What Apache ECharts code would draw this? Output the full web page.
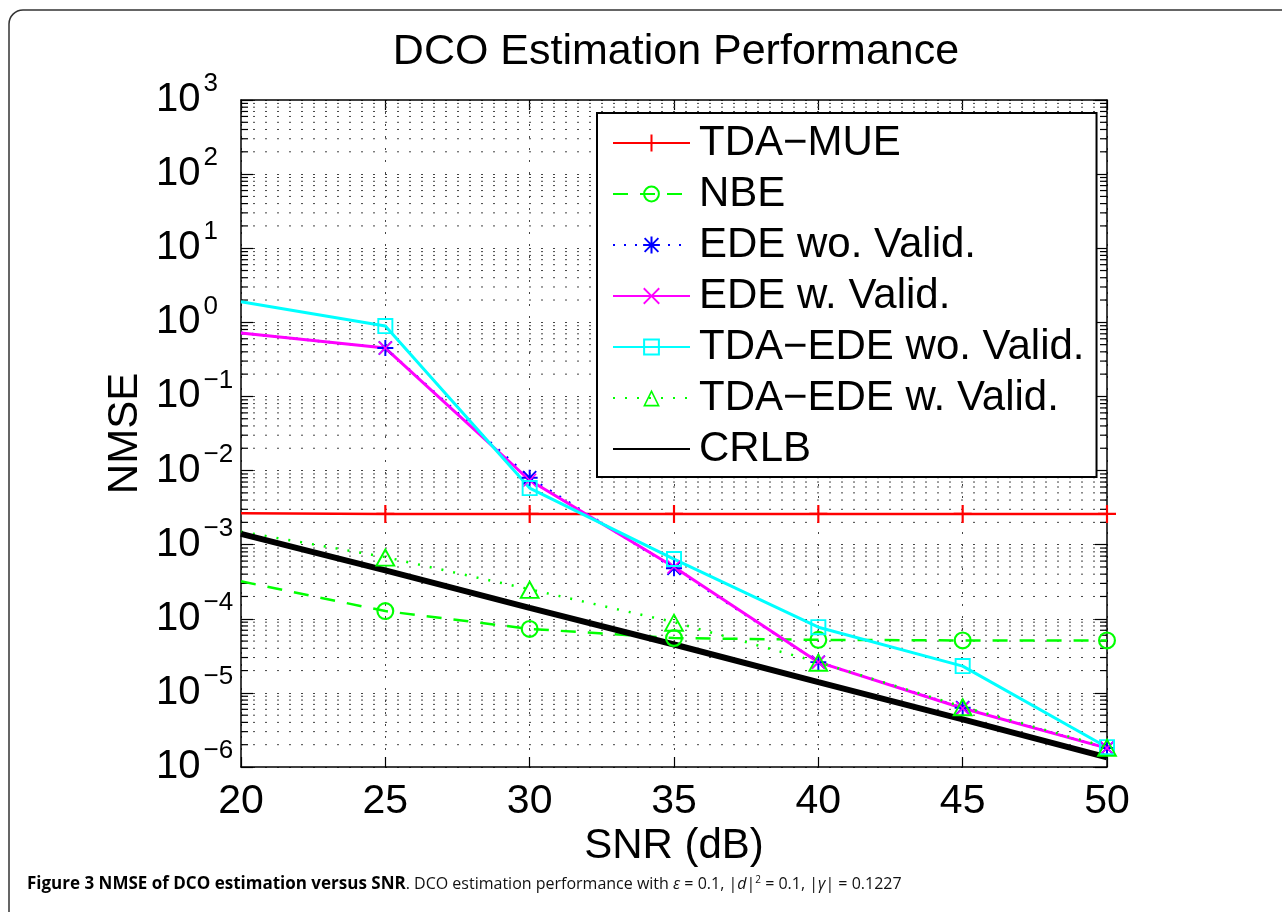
<!DOCTYPE html>
<html>
<head>
<meta charset="utf-8">
<script src="https://cdn.jsdelivr.net/npm/echarts@6/dist/echarts.min.js"></script>
<style>
html,body{margin:0;padding:0;background:#fff;}
#chart{width:1282px;height:912px;}
</style>
</head>
<body>
<div id="chart"></div>
<script>
// ---- data ----
const snr = [20, 25, 30, 35, 40, 45, 50];
const tdaMue   = [2.65e-3, 2.6e-3, 2.6e-3, 2.6e-3, 2.6e-3, 2.6e-3, 2.6e-3];
const nbe      = [3.2e-4, 1.27e-4, 7.3e-5, 5.5e-5, 5.2e-5, 5.1e-5, 5.1e-5];
const edeWo    = [0.72, 0.45, 8.0e-3, 4.8e-4, 2.6e-5, 6.3e-6, 1.8e-6];
const edeW     = [0.72, 0.45, 7.4e-3, 5.0e-4, 2.6e-5, 6.2e-6, 1.8e-6];
const tdaEdeWo = [1.9, 0.89, 5.8e-3, 6.4e-4, 7.7e-5, 2.3e-5, 1.85e-6];
const tdaEdeW  = [1.5e-3, 6.8e-4, 2.5e-4, 9.0e-5, 2.6e-5, 6.5e-6, 1.85e-6];
const crlb     = [1.4e-3, 4.5e-4, 1.4e-4, 4.5e-5, 1.4e-5, 4.4e-6, 1.35e-6];

const seriesNames = ['TDA\u2212MUE', 'NBE', 'EDE wo. Valid.', 'EDE w. Valid.',
                     'TDA\u2212EDE wo. Valid.', 'TDA\u2212EDE w. Valid.', 'CRLB'];
const xMin = 20, xMax = 50, xStep = 5;
const yMinExp = -6, yMaxExp = 3;
const minorMults = [2, 3, 4, 5, 6, 7, 8, 9];

// minor log tick values (axis structure)
const minorVals = [];
for (let e = yMinExp; e < yMaxExp; e++) {
  minorMults.forEach(m => minorVals.push([xMin, m * Math.pow(10, e)]));
}

const FONT = "'Liberation Sans', Arial, Helvetica, sans-serif";
const CAP_FONT = "'Liberation Sans Narrow', 'Open Sans', sans-serif";

// symbols (hollow rings so lines show through, like MATLAB markers)
const SYM_PLUS = 'path://M8.8,0H11.2V8.8H20V11.2H11.2V20H8.8V11.2H0V8.8H8.8Z';
const SYM_X = 'path://M1.6,0L10,8.4L18.4,0L20,1.6L11.6,10L20,18.4L18.4,20L10,11.6L1.6,20L0,18.4L8.4,10L0,1.6Z';
const SYM_STAR = 'path://M8.8,0H11.2V8.8H20V11.2H11.2V20H8.8V11.2H0V8.8H8.8Z M2.6,1L10,8.4L17.4,1L19,2.6L11.6,10L19,17.4L17.4,19L10,11.6L2.6,19L1,17.4L8.4,10L1,2.6Z';
const SYM_CIRC = 'path://M10,0A10,10,0,1,1,10,20A10,10,0,1,1,10,0ZM10,2.4A7.6,7.6,0,1,0,10,17.6A7.6,7.6,0,1,0,10,2.4Z';
const SYM_SQ = 'path://M0,0H20V20H0ZM2.4,2.4V17.6H17.6V2.4Z';
const SYM_TRI = 'path://M10,0L20,18H0ZM10,3.7L3.06,16.2H16.94Z';

// line enters from the left edge: no marker drawn at the left axis limit
function pairs(arr) {
  return snr.map((x, i) => (x === xMin ? {value: [x, arr[i]], symbol: 'none'} : [x, arr[i]]));
}

function yLabel(v) {
  const e = Math.round(Math.log10(v));
  const s = e < 0 ? '\u2212' + (-e) : String(e);
  return '{b|10}{s|' + s + '}';
}

const chart = echarts.init(document.getElementById('chart'), null, {renderer: 'canvas'});

const axisLine = {show: true, lineStyle: {color: '#000', width: 1.5}};
const dotted = {show: true, lineStyle: {color: '#444', width: 1, type: [2, 10]}};

const option = {
  backgroundColor: '#fff',
  animation: false,
  grid: {left: 241, right: 175, top: 100, bottom: 145, containLabel: false},
  graphic: [
    {type: 'rect', shape: {x: 9, y: 10, width: 1320, height: 940, r: 14},
     style: {fill: 'none', stroke: '#333', lineWidth: 1.5}, silent: true, z: 0},
    {type: 'text', x: 676, y: 52,
     style: {text: 'DCO Estimation Performance', font: '43px ' + FONT, fill: '#000',
             textAlign: 'center', textVerticalAlign: 'middle'}},
    {type: 'text', x: 27, y: 884,
     style: {
       text: '{bd|Figure 3 NMSE of DCO estimation versus SNR}{n|. DCO estimation performance with }{i|\u03b5}{n| = 0.1, |}{i|d}{n||}{sup|2}{n| = 0.1, |}{i|\u03b3}{n|| = 0.1227}',
       textVerticalAlign: 'middle',
       rich: {
         bd: {fontFamily: CAP_FONT, fontWeight: 'bold', fontSize: 17, fill: '#000'},
         n: {fontFamily: CAP_FONT, fontSize: 16, fill: '#111'},
         i: {fontFamily: CAP_FONT, fontStyle: 'italic', fontSize: 16, fill: '#111'},
         sup: {fontFamily: CAP_FONT, fontSize: 10, fill: '#111', verticalAlign: 'top'}
       }
     }}
  ],
  legend: {
    orient: 'vertical',
    left: 597, top: 113,
    data: seriesNames.map(n => (n === 'CRLB' ? {name: n, itemStyle: {opacity: 0}} : n)),
    itemWidth: 77, itemHeight: 21, itemGap: 9,
    padding: [9, 12, 7, 15],
    backgroundColor: '#fff',
    borderColor: '#000', borderWidth: 2,
    selectedMode: false,
    textStyle: {fontFamily: FONT, fontSize: 42, color: '#000', lineHeight: 42, padding: [0, 0, 0, 4]}
  },
  xAxis: [
    {type: 'value', min: xMin, max: xMax, interval: xStep, position: 'bottom',
     axisLine: axisLine,
     axisTick: {show: true, inside: true, length: 10, lineStyle: {color: '#000', width: 1.2}},
     axisLabel: {fontFamily: FONT, fontSize: 41, color: '#000', margin: 14},
     splitLine: dotted,
     name: 'SNR (dB)', nameLocation: 'middle', nameGap: 58, nameMoveOverlap: false,
     nameTextStyle: {fontFamily: FONT, fontSize: 42, color: '#000'}},
    {type: 'value', min: xMin, max: xMax, interval: xStep, position: 'top',
     axisLine: axisLine,
     axisTick: {show: true, inside: true, length: 10, lineStyle: {color: '#000', width: 1.2}},
     axisLabel: {show: false}, splitLine: {show: false}}
  ],
  yAxis: [
    {type: 'log', logBase: 10, min: Math.pow(10, yMinExp), max: Math.pow(10, yMaxExp), interval: 1,
     position: 'left',
     axisLine: axisLine,
     axisTick: {show: true, inside: true, length: 12, lineStyle: {color: '#000', width: 1.2}},
     axisLabel: {formatter: yLabel, margin: 85, align: 'left', color: '#000',
       rich: {b: {fontFamily: FONT, fontSize: 40, lineHeight: 70, color: '#000'},
              s: {fontFamily: FONT, fontSize: 26, lineHeight: 30, verticalAlign: 'top', color: '#000', padding: [6, 0, 0, 3]}}},
     splitLine: dotted,
     name: 'NMSE', nameLocation: 'middle', nameGap: 95, nameMoveOverlap: false,
     nameTextStyle: {fontFamily: FONT, fontSize: 42, color: '#000'}},
    {type: 'log', logBase: 10, min: Math.pow(10, yMinExp), max: Math.pow(10, yMaxExp), interval: 1,
     position: 'right',
     axisLine: axisLine,
     axisTick: {show: true, inside: true, length: 12, lineStyle: {color: '#000', width: 1.2}},
     axisLabel: {show: false}, splitLine: {show: false}}
  ],
  series: [
    {
      name: 'minorGrid', type: 'custom', z: 1, silent: true,
      xAxisIndex: 0, yAxisIndex: 0,
      data: minorVals,
      renderItem: function (params, api) {
        const v = api.value(1);
        const p0 = api.coord([xMin, v]);
        const p1 = api.coord([xMax, v]);
        return {type: 'group', children: [
          {type: 'line', shape: {x1: p0[0], y1: p0[1], x2: p1[0], y2: p1[1]},
           style: {stroke: '#444', lineWidth: 1, lineDash: [2, 10]}},
          {type: 'line', shape: {x1: p0[0], y1: p0[1], x2: p0[0] + 7, y2: p0[1]},
           style: {stroke: '#000', lineWidth: 1.2}},
          {type: 'line', shape: {x1: p1[0] - 7, y1: p1[1], x2: p1[0], y2: p1[1]},
           style: {stroke: '#000', lineWidth: 1.2}}
        ]};
      }
    },
    {name: seriesNames[0], type: 'line', data: pairs(tdaMue), symbol: SYM_PLUS, symbolSize: 18,
     color: '#ff0000', lineStyle: {color: '#ff0000', width: 2.5}, itemStyle: {color: '#ff0000'}},
    {name: seriesNames[1], type: 'line', data: pairs(nbe), symbol: SYM_CIRC, symbolSize: 18,
     color: '#00ff00', lineStyle: {color: '#00ff00', width: 2.5, type: [15, 12]}, itemStyle: {color: '#00ff00'}},
    {name: seriesNames[2], type: 'line', data: pairs(edeWo), symbol: SYM_STAR, symbolSize: 16,
     color: '#0000ff', lineStyle: {color: '#0000ff', width: 2.5, type: [2, 9]}, itemStyle: {color: '#0000ff'}},
    {name: seriesNames[3], type: 'line', data: pairs(edeW), symbol: SYM_X, symbolSize: 14,
     color: '#ff00ff', lineStyle: {color: '#ff00ff', width: 3}, itemStyle: {color: '#ff00ff'}},
    {name: seriesNames[4], type: 'line', data: pairs(tdaEdeWo), symbol: SYM_SQ, symbolSize: 16,
     color: '#00ffff', lineStyle: {color: '#00ffff', width: 3}, itemStyle: {color: '#00ffff'}},
    {name: seriesNames[5], type: 'line', data: pairs(tdaEdeW), symbol: SYM_TRI, symbolSize: [21, 19],
     color: '#00ff00', lineStyle: {color: '#00ff00', width: 2.5, type: [2, 10]}, itemStyle: {color: '#00ff00'}},
    {name: seriesNames[6], type: 'line', data: pairs(crlb), symbol: 'none', showSymbol: false,
     color: '#000', lineStyle: {color: '#000', width: 6}}
  ]
};
chart.setOption(option);
</script>
</body>
</html>
